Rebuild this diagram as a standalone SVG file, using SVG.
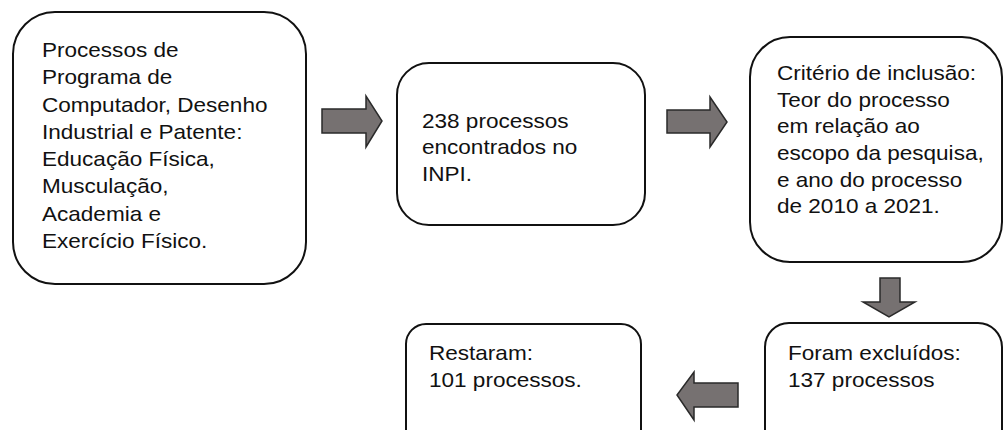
<svg xmlns="http://www.w3.org/2000/svg" width="1004" height="430" viewBox="0 0 1004 430">
<style>
.box{fill:#fff;stroke:#111;stroke-width:2}
.arr{fill:#767171;stroke:#2a2a2a;stroke-width:1.5;stroke-linejoin:miter}
.t{font-family:"Liberation Sans",Arial,sans-serif;font-size:20.5px;fill:#111}
</style>
<rect width="1004" height="430" fill="#fff"/>
<g id="connectors">
<polygon class="arr" points="322,109 366,109 366,96 382,121 366,147 366,133 322,133"/>
<polygon class="arr" points="667,110 710,110 710,97 727,122 710,147 710,133 667,133"/>
<polygon class="arr" points="880,278 900,278 900,302 915,302 889,317 863,302 880,302"/>
<polygon class="arr" points="738,383 694,383 694,372 677,395 694,420 694,407 738,407"/>
</g>
<g id="n1">
<rect class="box" x="13" y="12" width="293" height="272" rx="42"/>
<text class="t" transform="translate(42,57) scale(1.1,1)"><tspan x="0" y="0">Processos de</tspan><tspan x="0" y="27.3">Programa de</tspan><tspan x="0" y="54.6">Computador, Desenho</tspan><tspan x="0" y="81.9">Industrial e Patente:</tspan><tspan x="0" y="109.2">Educação Física,</tspan><tspan x="0" y="136.5">Musculação,</tspan><tspan x="0" y="163.8">Academia e</tspan><tspan x="0" y="191.1">Exercício Físico.</tspan></text>
</g>
<g id="n2">
<rect class="box" x="397" y="63" width="248" height="162" rx="32"/>
<text class="t" transform="translate(422,128) scale(1.1,1)"><tspan x="0" y="0">238 processos</tspan><tspan x="0" y="26.5">encontrados no</tspan><tspan x="0" y="53">INPI.</tspan></text>
</g>
<g id="n3">
<rect class="box" x="750" y="37" width="252" height="225" rx="40"/>
<text class="t" transform="translate(777,80) scale(1.1,1)"><tspan x="0" y="0">Critério de inclusão:</tspan><tspan x="0" y="26.7">Teor do processo</tspan><tspan x="0" y="53.4">em relação ao</tspan><tspan x="0" y="80.1">escopo da pesquisa,</tspan><tspan x="0" y="106.8">e ano do processo</tspan><tspan x="0" y="133.5">de 2010 a 2021.</tspan></text>
</g>
<g id="n4">
<rect class="box" x="765" y="323" width="237" height="130" rx="24"/>
<text class="t" transform="translate(788,360) scale(1.1,1)"><tspan x="0" y="0">Foram excluídos:</tspan><tspan x="0" y="26.7">137 processos</tspan></text>
</g>
<g id="n5">
<rect class="box" x="406" y="324" width="235" height="130" rx="20"/>
<text class="t" transform="translate(429,360) scale(1.1,1)"><tspan x="0" y="0">Restaram:</tspan><tspan x="0" y="26.7">101 processos.</tspan></text>
</g>
</svg>
